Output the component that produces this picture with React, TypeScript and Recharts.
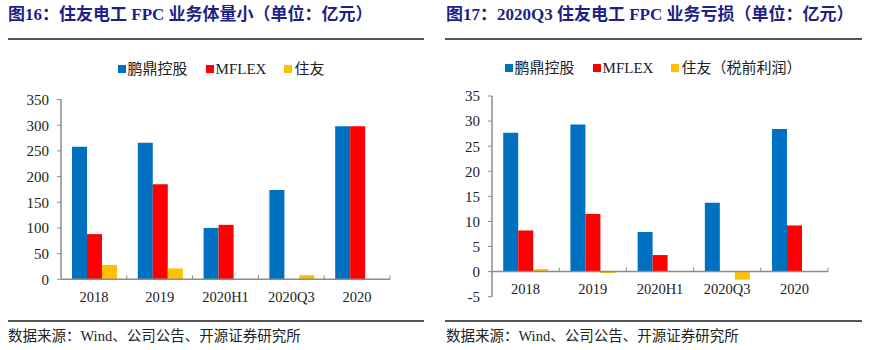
import React from "react";
import { BarChart, Bar, XAxis, YAxis, ReferenceLine } from "recharts";

const categories = ["2018", "2019", "2020H1", "2020Q3", "2020"];

// 图16: 业务体量 (亿元)
const revPengding = [258, 266, 100, 174, 298];
const revMflex = [88, 185, 106, null, 298];
const revSumitomo = [28, 21, null, 8, null];
const revTicks = [0, 50, 100, 150, 200, 250, 300, 350];

// 图17: 利润 (亿元)
const profPengding = [27.7, 29.3, 7.9, 13.7, 28.4];
const profMflex = [8.2, 11.5, 3.3, null, 9.2];
const profSumitomo = [0.5, -0.3, null, -1.6, null];
const profTicks = [-5, 0, 5, 10, 15, 20, 25, 30, 35];

const seriesNamesLeft = ["鹏鼎控股", "MFLEX", "住友"];
const seriesNamesRight = ["鹏鼎控股", "MFLEX", "住友（税前利润）"];
const colors = ["#0070C0", "#FF0000", "#FFC000"];

const title1 = "图16：住友电工 FPC 业务体量小（单位：亿元）";
const title2 = "图17：2020Q3 住友电工 FPC 业务亏损（单位：亿元）";
const sourceText = "数据来源：Wind、公司公告、开源证券研究所";

const FONT = "'Liberation Serif', 'Noto Sans CJK SC', serif";
const AXIS = "#8c8c8c";

const revData = categories.map((c, i) => ({
  cat: c,
  a: revPengding[i],
  b: revMflex[i],
  c: revSumitomo[i],
}));
const profData = categories.map((c, i) => ({
  cat: c,
  a: profPengding[i],
  b: profMflex[i],
  c: profSumitomo[i],
}));

function makeTick(band: number, lineOffset: number, labelDy: number) {
  return (props: any) => {
    const { x, y, payload } = props;
    const ly = y - lineOffset;
    return (
      <g>
        <line x1={x + band / 2} x2={x + band / 2} y1={ly} y2={ly - 4} stroke={AXIS} strokeWidth={1} />
        <text
          x={x}
          y={y}
          dy={labelDy}
          textAnchor="middle"
          fill="#222"
          fontSize={14.5}
          fontFamily={FONT}
        >
          {payload.value}
        </text>
      </g>
    );
  };
}

function Legend({ names, left, width, top }: { names: string[]; left: number; width: number; top: number }) {
  return (
    <div
      style={{
        position: "absolute",
        left,
        top,
        width,
        display: "flex",
        justifyContent: "center",
        alignItems: "center",
        gap: 18,
        fontFamily: FONT,
        fontSize: 15,
        color: "#222",
        lineHeight: "18px",
      }}
    >
      {names.map((n, i) => (
        <div key={n} style={{ display: "flex", alignItems: "center" }}>
          <span style={{ width: 8, height: 8, background: colors[i], marginRight: 2, display: "inline-block" }} />
          <span>{n}</span>
        </div>
      ))}
    </div>
  );
}

const titleStyle: React.CSSProperties = {
  position: "absolute",
  top: 5,
  fontFamily: FONT,
  fontWeight: "bold",
  fontSize: 17,
  lineHeight: "20px",
  color: "#1f1f88",
  whiteSpace: "nowrap",
};

const sourceStyle: React.CSSProperties = {
  position: "absolute",
  top: 327,
  fontFamily: FONT,
  fontSize: 14.5,
  lineHeight: "18px",
  color: "#222",
  whiteSpace: "nowrap",
};

export default function App() {
  const leftPlotW = 390 - 61;
  const rightPlotW = 828 - 492;
  const rightPlotH = 296.7 - 96;
  const zeroFromBottom = (rightPlotH * (0 - -5)) / (35 - -5);

  return (
    <div style={{ position: "absolute", left: 0, top: 0, width: 875, height: 350, background: "#fff", overflow: "hidden" }}>
      <div style={{ ...titleStyle, left: 8 }}>{title1}</div>
      <div style={{ ...titleStyle, left: 446 }}>{title2}</div>
      <div style={{ position: "absolute", left: 8, top: 38, width: 416, height: 2, background: "#555" }} />
      <div style={{ position: "absolute", left: 445, top: 38, width: 417, height: 2, background: "#555" }} />

      <Legend names={seriesNamesLeft} left={6} width={430} top={60} />
      <Legend names={seriesNamesRight} left={444} width={418} top={59} />

      <div style={{ position: "absolute", left: 0, top: 0 }}>
        <BarChart
          width={440}
          height={350}
          data={revData}
          margin={{ top: 99.5, right: 50, bottom: 40.7, left: 21 }}
          barCategoryGap="16.7%"
          barGap={0}
        >
          <XAxis
            dataKey="cat"
            height={30}
            tickSize={0}
            tickMargin={0}
            axisLine={{ stroke: AXIS, strokeWidth: 1.5 }}
            tickLine={false}
            tick={makeTick(leftPlotW / categories.length, 0, 22.5)}
            interval={0}
          />
          <YAxis
            width={40}
            domain={[0, 350]}
            ticks={revTicks}
            interval={0}
            tickSize={4}
            tickMargin={8}
            axisLine={{ stroke: AXIS, strokeWidth: 1.5 }}
            tickLine={{ stroke: AXIS }}
            tick={{ fill: "#222", fontSize: 15, fontFamily: FONT }}
          />
          <Bar dataKey="a" fill={colors[0]} isAnimationActive={false} />
          <Bar dataKey="b" fill={colors[1]} isAnimationActive={false} />
          <Bar dataKey="c" fill={colors[2]} isAnimationActive={false} />
        </BarChart>
      </div>

      <div style={{ position: "absolute", left: 440, top: 0 }}>
        <BarChart
          width={435}
          height={350}
          data={profData}
          margin={{ top: 96, right: 47, bottom: 23.3, left: 12 }}
          barCategoryGap="16.7%"
          barGap={0}
        >
          <XAxis
            dataKey="cat"
            height={30}
            tickSize={0}
            tickMargin={0}
            axisLine={false}
            tickLine={false}
            tick={makeTick(rightPlotW / categories.length, zeroFromBottom, -2.5)}
            interval={0}
          />
          <YAxis
            width={40}
            domain={[-5, 35]}
            ticks={profTicks}
            interval={0}
            tickSize={4}
            tickMargin={8}
            axisLine={{ stroke: AXIS, strokeWidth: 1.5 }}
            tickLine={{ stroke: AXIS }}
            tick={{ fill: "#222", fontSize: 15, fontFamily: FONT }}
          />
          <Bar dataKey="a" fill={colors[0]} isAnimationActive={false} />
          <Bar dataKey="b" fill={colors[1]} isAnimationActive={false} />
          <Bar dataKey="c" fill={colors[2]} isAnimationActive={false} />
          <ReferenceLine y={0} stroke={AXIS} strokeWidth={1.5} />
        </BarChart>
      </div>

      <div style={{ position: "absolute", left: 8, top: 320, width: 416, height: 2, background: "#555" }} />
      <div style={{ position: "absolute", left: 445, top: 320, width: 417, height: 2, background: "#555" }} />
      <div style={{ ...sourceStyle, left: 8 }}>{sourceText}</div>
      <div style={{ ...sourceStyle, left: 446 }}>{sourceText}</div>
    </div>
  );
}
